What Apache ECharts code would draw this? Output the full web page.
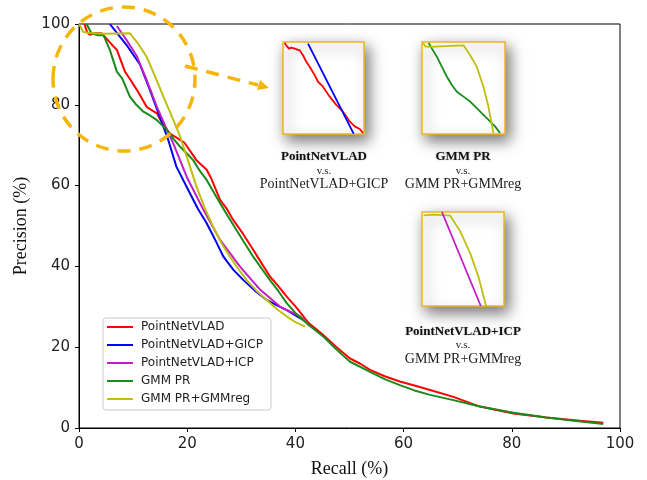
<!DOCTYPE html>
<html>
<head>
<meta charset="utf-8">
<script src="https://cdn.jsdelivr.net/npm/echarts@6/dist/echarts.min.js"></script>
<style>
  html, body { margin: 0; padding: 0; background: #fff; }
  #chart { width: 647px; height: 480px; }
</style>
</head>
<body>
<div id="chart"></div>
<script>
// [recall, precision]
const seriesNames = ['PointNetVLAD', 'PointNetVLAD+GICP', 'PointNetVLAD+ICP', 'GMM PR', 'GMM PR+GMMreg'];
const seriesColors = ['#ff0000', '#0000ff', '#c21fc2', '#1a8a1a', '#bfbf10'];

const pointnetvlad = [
  [1, 100], [1.5, 98], [2, 97.3], [3, 97.8], [4.2, 97.7], [5, 96.5], [6, 95], [7, 93.6],
  [8.5, 88.2], [9.5, 86.2], [10.7, 83.7], [12.5, 79.5], [13.5, 78.6], [14.4, 77.9], [15.5, 75.2],
  [16.8, 72.9], [18.7, 71.3], [19.5, 70.6], [21.7, 66.3], [23.6, 63.9], [24.4, 61.9],
  [26.1, 56.4], [27.2, 54.5], [28.5, 51.5], [30.3, 48.1], [32.2, 44.1], [33.5, 41.3],
  [35.3, 37.5], [36.8, 35.2], [38.4, 32.5], [40, 30.1], [41.5, 27.6], [42.5, 25.9], [45, 23.2],
  [47.5, 20.1], [50.1, 17.2], [52, 15.9], [53.8, 14.4], [56.5, 12.8], [59.3, 11.5], [62, 10.5],
  [64.9, 9.4], [69.2, 7.7], [74.1, 5.3], [80.3, 3.6], [86.4, 2.6], [92.6, 1.8], [96.9, 1.3]
];
const pointnetvladGicp = [
  [5.7, 100], [8.8, 94.8], [11.3, 89.9], [13.1, 83.7], [14.7, 77.9], [16.5, 71.3], [18, 64.7],
  [20.5, 58.1], [22, 54.2], [23.6, 50.7], [25.2, 46.5], [26.7, 42.4], [28.5, 39.2], [30.4, 36.6],
  [32.5, 34], [34.7, 31.7], [36.5, 30.4], [38.4, 29.2], [40, 27.9], [41.5, 26.7]
];
const pointnetvladIcp = [
  [7, 99.5], [8.8, 96], [10.7, 92], [12.6, 85.8], [14.4, 79.5], [16, 74.6], [17.4, 70.5],
  [19.9, 62.2], [23, 54], [26.1, 46.5], [29.8, 39.9], [33.5, 34.2], [37.2, 30], [40.9, 27.6],
  [41.8, 26.5]
];
const gmmpr = [
  [1.4, 100], [2.3, 97.7], [3.5, 97.2], [4.5, 97.3], [5.7, 93.6], [7, 88.2], [8, 86.5],
  [9.4, 82], [10.6, 80], [11.9, 78.3], [13.2, 77.3], [14.4, 76.2], [16.2, 73.8], [17.5, 71.5],
  [18.7, 69.6], [19.9, 68], [21.1, 66.3], [22.4, 63.5], [23.6, 61.4], [26.1, 55.6],
  [27.5, 52.5], [29.1, 49], [30.6, 45.8], [32.2, 42.4], [33.8, 39.4], [35.3, 36.6],
  [36.9, 33.8], [38.4, 30.9], [40.2, 28.2], [42.1, 25.9], [45.2, 22.6], [47.6, 19.4],
  [50.1, 16.4], [53.8, 13.9], [56.5, 12.1], [59.3, 10.6], [62, 9.3], [64.9, 8.2], [69.2, 6.9],
  [74.1, 5.3], [80.3, 3.8], [86.4, 2.6], [91.5, 1.8], [96.9, 1]
];
const gmmprReg = [
  [0, 100], [0.8, 98], [2, 97.8], [5, 97.6], [9.4, 97.7], [11, 95], [12.5, 91.9], [14, 87.2],
  [15.6, 82], [17.2, 77], [18.7, 72.1], [20.2, 66], [21.7, 59.8], [23.2, 54.6], [24.8, 49.8],
  [26.3, 45.8], [27.9, 42.4], [29.5, 39.3], [31, 36.6], [32.8, 34], [34.7, 31.7], [36.5, 29.5],
  [38.4, 27.6], [40, 26.2], [41.8, 25.1]
];
const mainData = [pointnetvlad, pointnetvladGicp, pointnetvladIcp, gmmpr, gmmprReg];

// insets, in box units 0..100
const inset1Red = [
  [2, 99], [4, 96.4], [7.4, 92.8], [10.3, 93.9], [14.4, 92.8], [20.6, 91], [24.7, 85.6],
  [28.8, 78.4], [32.9, 73], [39.1, 64], [43.2, 56.8], [49.4, 51.4], [57.6, 40.6], [65.8, 31.7],
  [72, 26.3], [78.2, 19.1], [82.3, 13.7], [88.5, 8.3], [94.7, 5.4], [98.8, 1.1]
];
const inset1Blue = [[30.9, 98.2], [87.2, 0.4]];
const inset2Green = [
  [8, 98.9], [12, 92.8], [18, 83.8], [24, 73], [30, 62.2], [36, 53.2], [42, 46], [50, 40.6],
  [58, 35.3], [66, 28.1], [74, 20.9], [82, 13.7], [88, 8.3], [94, 1.1]
];
const inset2Yellow = [
  [1.2, 98.9], [4, 95.3], [8, 94.6], [50, 96.4], [58, 85.6], [66, 73], [74, 51.4], [80, 29.9],
  [86, 1.1]
];
const inset3Yellow = [
  [2, 96.4], [14.2, 97.2], [34.4, 96.1], [46.6, 79.4], [58.7, 56.2], [68.8, 31.3], [78.1, 0]
];
const inset3Magenta = [[24.3, 100], [71.7, 0]];

const serif = "'Liberation Serif', 'DejaVu Serif', serif";
const sans = "'DejaVu Sans', sans-serif";
const gold = '#f5b50a';

let insetBoxes = [
  { left: 283, top: 42, width: 81, height: 92 },
  { left: 422, top: 42, width: 83, height: 92 },
  { left: 422, top: 212, width: 82, height: 94 }
];
let insetLines = [
  [[inset1Red, seriesColors[0]], [inset1Blue, seriesColors[1]]],
  [[inset2Green, seriesColors[3]], [inset2Yellow, seriesColors[4]]],
  [[inset3Yellow, seriesColors[4]], [inset3Magenta, seriesColors[2]]]
];
let insetCaptions = [
  { x: 324, y: 157, lines: ['PointNetVLAD', 'v.s.', 'PointNetVLAD+GICP'] },
  { x: 463, y: 157, lines: ['GMM PR', 'v.s.', 'GMM PR+GMMreg'] },
  { x: 463, y: 331.5, lines: ['PointNetVLAD+ICP', 'v.s.', 'GMM PR+GMMreg'] }
];

let grids = [{
  left: 79, right: 27, top: 24, bottom: 52, show: true, borderColor: '#000', borderWidth: 1,
  containLabel: false, outerBoundsMode: 'none'
}];
let xAxes = [{
  type: 'value', min: 0, max: 100, interval: 20, gridIndex: 0,
  name: 'Recall (%)', nameLocation: 'middle', nameGap: 32,
  nameTextStyle: { fontFamily: serif, fontSize: 18, color: '#111' },
  axisLine: { lineStyle: { color: '#000' } },
  axisTick: { inside: false, length: 4, lineStyle: { color: '#000' } },
  axisLabel: { fontFamily: sans, fontSize: 15, color: '#222', margin: 9 },
  splitLine: { show: false }
}];
let yAxes = [{
  type: 'value', min: 0, max: 100, interval: 20, gridIndex: 0,
  name: 'Precision (%)', nameLocation: 'middle', nameGap: 45,
  nameTextStyle: { fontFamily: serif, fontSize: 18, color: '#111' },
  axisLine: { lineStyle: { color: '#000' } },
  axisTick: { inside: false, length: 4, lineStyle: { color: '#000' } },
  axisLabel: { fontFamily: sans, fontSize: 15, color: '#222', margin: 9 },
  splitLine: { show: false }
}];
let series = [];
seriesNames.forEach(function (name, i) {
  series.push({
    name: name, type: 'line', data: mainData[i], symbol: 'none',
    xAxisIndex: 0, yAxisIndex: 0,
    lineStyle: { width: 2, color: seriesColors[i] }, itemStyle: { color: seriesColors[i] },
    z: 3
  });
});

let graphics = [
  // dashed circle + arrow
  { type: 'ellipse', shape: { cx: 124, cy: 79, rx: 71, ry: 72 }, z: 10,
    style: { fill: null, stroke: gold, lineWidth: 3.5, lineDash: [13, 9] } },
  { type: 'line', shape: { x1: 185, y1: 66, x2: 258, y2: 85 }, z: 10,
    style: { stroke: gold, lineWidth: 3.5, lineDash: [13, 9] } },
  { type: 'polygon', shape: { points: [[269, 88], [257, 90], [260, 80]] }, z: 10,
    style: { fill: gold } }
];

insetBoxes.forEach(function (b, k) {
  let gi = k + 1;
  grids.push({
    left: b.left, top: b.top, width: b.width, height: b.height, show: true,
    containLabel: false, outerBoundsMode: 'none',
    backgroundColor: '#fff', borderColor: '#f0b41e', borderWidth: 1.5,
    shadowBlur: 14, shadowColor: 'rgba(0,0,0,0.55)', shadowOffsetX: 4, shadowOffsetY: 6
  });
  xAxes.push({ type: 'value', gridIndex: gi, min: 0, max: 100, show: false, splitLine: { show: false } });
  yAxes.push({ type: 'value', gridIndex: gi, min: 0, max: 100, show: false, splitLine: { show: false } });
  insetLines[k].forEach(function (l, j) {
    series.push({
      name: 'inset' + gi + '-' + j, type: 'line', data: l[0], symbol: 'none',
      xAxisIndex: gi, yAxisIndex: gi, clip: true, z: 5,
      lineStyle: { width: 1.8, color: l[1] }
    });
  });
  let c = insetCaptions[k];
  graphics.push(
    { type: 'text', x: c.x, y: c.y, z: 20,
      style: { text: c.lines[0], font: 'bold 13px ' + serif, fill: '#111', align: 'center', verticalAlign: 'middle',
        textAlign: 'center', textVerticalAlign: 'middle', textShadowColor: 'rgba(0,0,0,0.25)', textShadowBlur: 2 } },
    { type: 'text', x: c.x, y: c.y + 14, z: 20,
      style: { text: c.lines[1], font: '11px ' + serif, fill: '#222', align: 'center', verticalAlign: 'middle',
        textAlign: 'center', textVerticalAlign: 'middle' } },
    { type: 'text', x: c.x, y: c.y + 27.5, z: 20,
      style: { text: c.lines[2], font: '14px ' + serif, fill: '#222', align: 'center', verticalAlign: 'middle',
        textAlign: 'center', textVerticalAlign: 'middle' } }
  );
});

let myChart = echarts.init(document.getElementById('chart'), null, { renderer: 'canvas' });
let option = {
  animation: false,
  backgroundColor: '#fff',
  grid: grids,
  xAxis: xAxes,
  yAxis: yAxes,
  legend: {
    data: seriesNames,
    orient: 'vertical',
    left: 103, top: 318,
    icon: 'rect',
    itemWidth: 26, itemHeight: 2, itemGap: 4,
    padding: [2, 8, 4, 4],
    borderColor: '#cccccc', borderWidth: 1, borderRadius: 3,
    backgroundColor: 'rgba(255,255,255,0.8)',
    textStyle: { fontFamily: sans, fontSize: 12, color: '#222', lineHeight: 14, padding: [0, 0, 0, 3] }
  },
  series: series,
  graphic: graphics
};
myChart.setOption(option);
</script>
</body>
</html>
